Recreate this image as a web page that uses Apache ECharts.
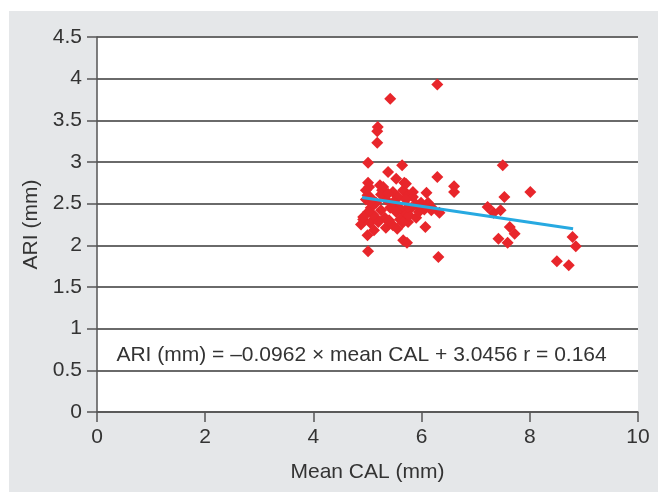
<!DOCTYPE html>
<html>
<head>
<meta charset="utf-8">
<script src="https://cdn.jsdelivr.net/npm/echarts@6/dist/echarts.min.js"></script>
<style>
html,body{margin:0;padding:0;background:#fff;}
#c{width:658px;height:492px;}
</style>
</head>
<body>
<div id="c"></div>
<script>
// Mean CAL (mm) values
const calValues = [
  6.29,5.42,5.19,5.18,5.18,5.01,5.38,5.64,6.29,6.60,6.60,7.50,8.01,7.53,7.22,7.33,7.46,7.63,7.72,7.42,
  7.59,8.79,8.85,8.50,8.72,6.31,5.01,6.07,5.66,5.73,5.00,
  5.01,5.23,5.27,5.68,4.97,5.00,5.06,5.47,5.66,5.57,5.75,6.09,5.84,5.84,5.71,6.12,5.99,5.29,5.53,5.03,
  4.97,5.16,5.34,5.53,5.71,5.90,5.25,5.44,5.62,5.81,5.06,5.10,6.18,
  5.01,4.92,5.05,5.25,5.32,5.34,5.47,5.53,5.70,5.75,5.60,5.42,5.14,5.77,5.90,6.05,6.18,6.33,5.75,4.88,
  4.92,5.20,5.40,5.55,5.65,5.95,5.12,5.05,5.38,5.48
];
// ARI (mm) values
const ariValues = [
  3.93,3.76,3.42,3.37,3.23,2.99,2.88,2.96,2.82,2.71,2.64,2.96,2.64,2.58,2.46,2.39,2.42,2.22,2.14,2.08,
  2.03,2.10,1.99,1.81,1.76,1.86,1.93,2.22,2.06,2.03,2.12,
  2.75,2.72,2.66,2.75,2.66,2.60,2.57,2.64,2.66,2.58,2.60,2.63,2.64,2.58,2.74,2.51,2.51,2.70,2.80,2.70,
  2.55,2.51,2.55,2.49,2.55,2.49,2.61,2.46,2.43,2.45,2.45,2.37,2.46,
  2.40,2.31,2.27,2.42,2.33,2.21,2.24,2.40,2.36,2.28,2.31,2.45,2.34,2.36,2.33,2.43,2.42,2.39,2.46,2.25,
  2.34,2.28,2.30,2.20,2.27,2.40,2.18,2.52,2.62,2.52
];
// Regression line endpoints (mean CAL)
const fitX = [4.9, 8.8];
const slope = -0.0962, intercept = 3.0456;
const fitY = fitX.map(x => +(slope * x + intercept).toFixed(4));
const xTicks = [0, 2, 4, 6, 8, 10];
const yTicks = [0, 0.5, 1, 1.5, 2, 2.5, 3, 3.5, 4, 4.5];
const equationText = 'ARI (mm) = \u20130.0962 \u00d7 mean CAL + 3.0456 r = 0.164';
const equationAnchor = [4.89, 0.68];

const points = calValues.map((x, i) => [x, ariValues[i]]);
const fitLine = fitX.map((x, i) => [x, fitY[i]]);

const chart = echarts.init(document.getElementById('c'));
const font = 'Liberation Sans, Arial, sans-serif';
chart.setOption({
  animation: false,
  backgroundColor: 'transparent',
  graphic: [{
    type: 'rect', z: -10, silent: true,
    shape: {x: 9, y: 11, width: 649, height: 481},
    style: {fill: '#e5e7e9'}
  }],
  grid: {left: 97, right: 20, top: 37, bottom: 80, show: true, backgroundColor: '#fff', borderWidth: 0},
  xAxis: {
    type: 'value', min: 0, max: 10, interval: 2,
    name: 'Mean CAL (mm)', nameLocation: 'middle', nameGap: 50,
    nameTextStyle: {fontFamily: font, fontSize: 21, color: '#333'},
    axisLine: {show: true, onZero: false, lineStyle: {color: '#555', width: 1.5}},
    axisTick: {show: true, length: 10, lineStyle: {color: '#555', width: 1.5}},
    axisLabel: {fontFamily: font, fontSize: 21, color: '#333', margin: 15,
      formatter: v => xTicks.includes(v) ? String(v) : ''},
    splitLine: {show: false}
  },
  yAxis: {
    type: 'value', min: 0, max: 4.5, interval: 0.5,
    name: 'ARI (mm)', nameLocation: 'middle', nameGap: 55, nameRotate: 90,
    nameTextStyle: {fontFamily: font, fontSize: 21, color: '#333'},
    axisLine: {show: true, lineStyle: {color: '#555', width: 1.5}},
    axisTick: {show: true, length: 10, lineStyle: {color: '#555', width: 1.5}},
    axisLabel: {fontFamily: font, fontSize: 21, color: '#333', margin: 15,
      formatter: v => yTicks.includes(v) ? String(v) : ''},
    splitLine: {show: true, lineStyle: {color: '#6a6a6a', width: 2}}
  },
  series: [
    {
      type: 'scatter', data: points, symbol: 'diamond', symbolSize: 12,
      itemStyle: {color: '#e8262b', opacity: 1}, z: 3
    },
    {
      type: 'line', data: fitLine, symbol: 'none',
      lineStyle: {color: '#27a9e1', width: 3}, z: 4
    },
    {
      type: 'scatter', data: [equationAnchor], symbol: 'circle', symbolSize: 2, z: 5, silent: true,
      itemStyle: {color: 'rgba(255,255,255,0)'},
      label: {show: true, position: 'inside', formatter: equationText,
        fontFamily: font, fontSize: 21, color: '#333', opacity: 1}
    }
  ]
});
</script>
</body>
</html>
